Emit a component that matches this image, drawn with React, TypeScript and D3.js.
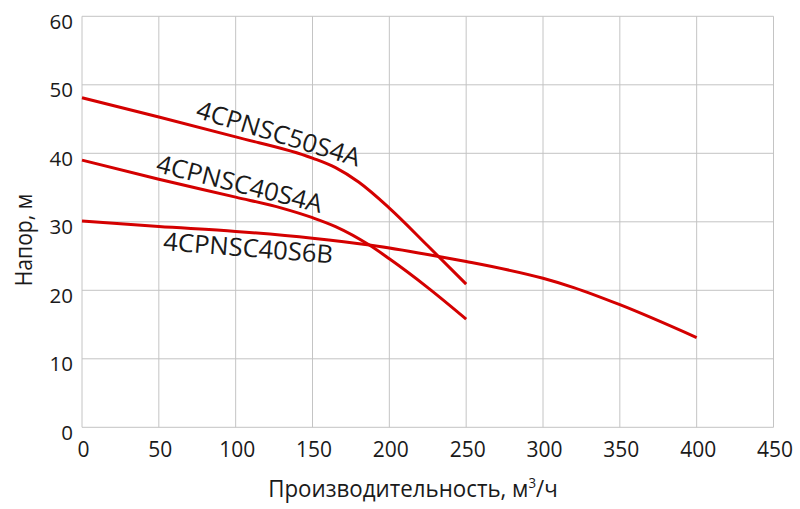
import React from "react"
import * as d3 from "d3"

// pump curves, flow in m3/h, head in m
const flow50S4A = [0, 50, 100, 150, 165, 180, 200, 225, 250]
const head50S4A = [48.1, 45.3, 42.4, 39.3, 37.9, 35.8, 32.0, 26.5, 20.9]

const flow40S4A = [0, 50, 100, 130, 150, 165, 187, 200, 225, 250]
const head40S4A = [39.0, 36.2, 33.6, 32.0, 30.6, 29.3, 26.6, 24.6, 20.4, 15.8]

const flow40S6B = [0, 50, 100, 150, 187, 233, 250, 300, 320, 350, 400]
const head40S6B = [30.1, 29.3, 28.6, 27.6, 26.6, 24.9, 24.2, 21.75, 20.4, 17.9, 13.1]

const seriesNames = ["4CPNSC50S4A", "4CPNSC40S4A", "4CPNSC40S6B"]

const xTicks = [0, 50, 100, 150, 200, 250, 300, 350, 400, 450]
const yTicks = [0, 10, 20, 30, 40, 50, 60]

const W = 800
const H = 509
const margin = { top: 16.3, right: 26.5, bottom: 81.7, left: 82 }
const FONT = "'Open Sans', 'Noto Sans', sans-serif"

export default function App() {
    const x = d3.scaleLinear().domain([0, 450]).range([margin.left, W - margin.right])
    const y = d3.scaleLinear().domain([0, 60]).range([H - margin.bottom, margin.top])

    const line = d3
        .line<[number, number]>()
        .x((d) => x(d[0]))
        .y((d) => y(d[1]))
        .curve(d3.curveMonotoneX)

    const series = [
        d3.zip(flow50S4A, head50S4A) as [number, number][],
        d3.zip(flow40S4A, head40S4A) as [number, number][],
        d3.zip(flow40S6B, head40S6B) as [number, number][],
    ]

    // label anchors (baseline middle) in data units, with rotation
    const labelPos: [number, number, number][] = [
        [126.2, 41.65, 17],
        [101.2, 34.3, 14],
        [107.7, 24.9, 4.5],
    ]

    return (
        <svg width={W} height={H} style={{ position: "absolute", left: 0, top: 0, background: "#fff" }}>
            <g stroke="#c4c4c4" strokeWidth={1}>
                {xTicks.map((t) => (
                    <line key={"gx" + t} x1={x(t)} x2={x(t)} y1={y(0)} y2={y(60)} />
                ))}
                {yTicks.map((t) => (
                    <line key={"gy" + t} x1={x(0)} x2={x(450)} y1={y(t)} y2={y(t)} />
                ))}
            </g>

            <g fontFamily={FONT} fill="#1a1a1a">
                {yTicks.map((t) => (
                    <text key={"ty" + t} x={x(0) - 9} y={y(t) + 12.5} fontSize={20.5} textAnchor="end">
                        {t}
                    </text>
                ))}
                {xTicks.map((t) => (
                    <text key={"tx" + t} x={x(t) + 1.5} y={y(0) + 29.5} fontSize={21} textAnchor="middle">
                        {t}
                    </text>
                ))}
                <g transform="translate(413,497.3) scale(0.95,1)">
                    <text fontSize={23.5} textAnchor="middle">
                        Производительность, м<tspan dy={-9} fontSize={14}>3</tspan>
                        <tspan dy={9}>/ч</tspan>
                    </text>
                </g>
                <g transform="translate(31.7,240) rotate(-90) scale(0.9,1)">
                    <text fontSize={23.5} textAnchor="middle">
                        Напор, м
                    </text>
                </g>
            </g>

            <g fill="none" stroke="#d40000" strokeWidth={3} strokeLinejoin="round">
                {series.map((s, i) => (
                    <path key={seriesNames[i]} d={line(s) ?? ""} />
                ))}
            </g>

            <g fontFamily={FONT} fill="#1a1a1a" fontSize={25}>
                {seriesNames.map((name, i) => {
                    const [lx, ly, rot] = labelPos[i]
                    return (
                        <text
                            key={name}
                            transform={`translate(${x(lx)},${y(ly)}) rotate(${rot})`}
                            textAnchor="middle"
                            textLength={170}
                            lengthAdjust="spacingAndGlyphs"
                        >
                            {name}
                        </text>
                    )
                })}
            </g>
        </svg>
    )
}
